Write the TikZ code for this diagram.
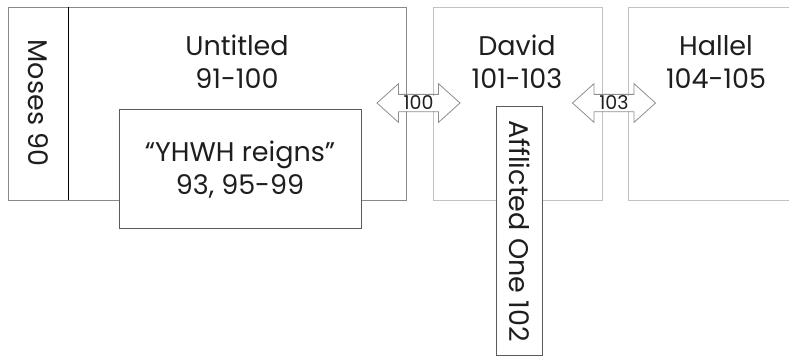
\documentclass[tikz,border=0pt]{standalone}
\usepackage{fontspec}
\setmainfont{Poppins}
\usetikzlibrary{shapes.arrows}
\definecolor{txt}{HTML}{1E1E1E}
\definecolor{edgeA}{HTML}{8A8A8A}
\definecolor{edgeB}{HTML}{C2C2C2}
\definecolor{edgeC}{HTML}{5A5A5A}
\definecolor{arrowc}{HTML}{8E8E8E}
\tikzset{
  bigtxt/.style={text=txt, font=\fontsize{27}{33}\selectfont, align=center},
  rottxt/.style={text=txt, font=\fontsize{27}{30}\selectfont, rotate=-90},
  dblarrow/.style={double arrow, draw=arrowc, line width=0.8pt, minimum height=83pt,
     inner sep=0pt, text height=16.5pt, text depth=0pt, text width=0pt,
     double arrow head extend=10.75pt, double arrow tip angle=84},
  arrlabel/.style={fill=white, inner sep=0pt, minimum width=41pt, minimum height=15pt,
     text=txt, font=\fontsize{19}{19}\selectfont}
}
\begin{document}
\begin{tikzpicture}[x=1pt,y=-1pt]
\useasboundingbox (0,0) rectangle (789,356);
\begin{scope}
\clip (0,0) rectangle (789,356);
% Untitled outer box
\draw[edgeA, line width=1pt] (8,7) rectangle (406,200);
\draw[black, line width=0.9pt] (68,7) -- (68,200);
\node[rottxt] (moses) at (38,103) {Moses 90};
\node[bigtxt] (untitled) at (237,62) {Untitled\\91-100};
% YHWH box
\node[draw=edgeC, fill=white, line width=1pt, minimum width=242pt, minimum height=119pt, inner sep=0pt] (yhwh) at (240,168.5) {};
\node[bigtxt] (yhwhtxt) at (240,170) {“YHWH reigns”\\93, 95-99};
% David box
\draw[edgeB, line width=1pt] (433,7) rectangle (602,200);
\node[bigtxt] (david) at (517,62) {David\\101-103};
% Hallel box
\draw[edgeB, line width=1pt] (628,7) rectangle (805,200);
\node[bigtxt] (hallel) at (716,62) {Hallel\\104-105};
% Afflicted One box
\node[draw=edgeC, fill=white, line width=1pt, minimum width=46pt, minimum height=249pt, inner sep=0pt] (afflicted) at (519,230.5) {};
\node[rottxt] (afftxt) at (520,231) {Afflicted One 102};
% arrows
\node[dblarrow] (a100) at (418.5,103) {};
\node[arrlabel] (l100) at (a100) {100};
\node[dblarrow] (a103) at (614,103) {};
\node[arrlabel] (l103) at (a103) {103};
\end{scope}
\end{tikzpicture}
\end{document}
